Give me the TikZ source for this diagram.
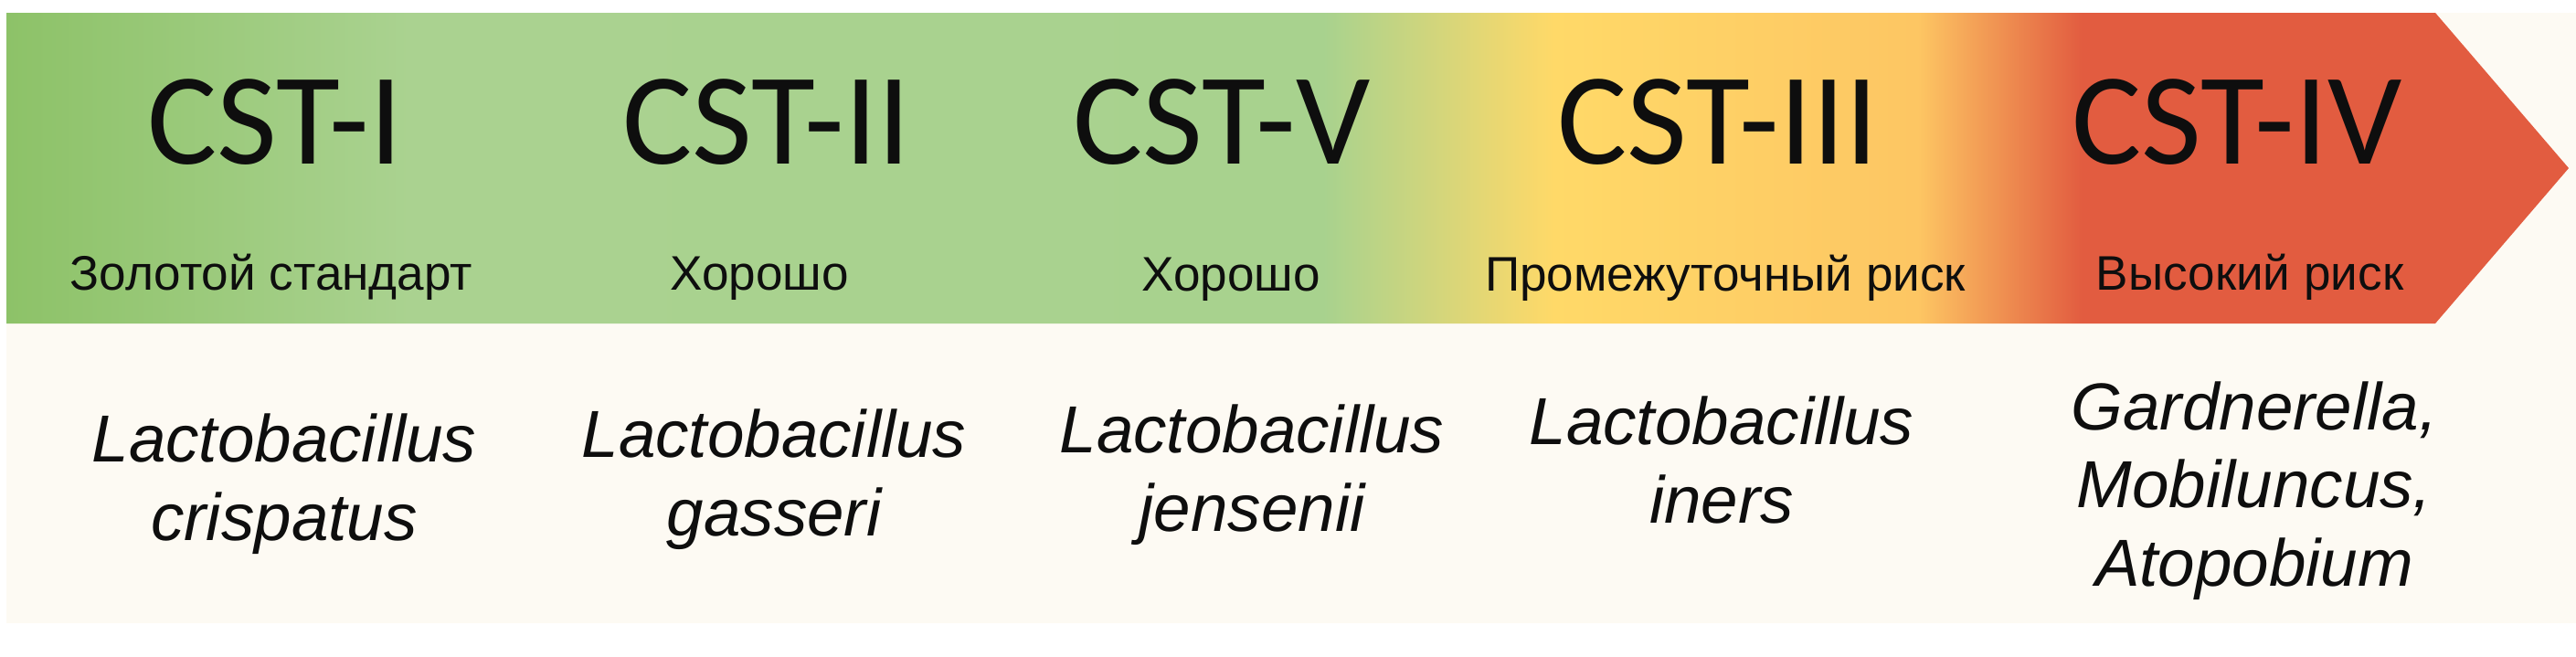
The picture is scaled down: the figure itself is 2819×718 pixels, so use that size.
\documentclass[tikz,border=0pt]{standalone}
\usepackage{fontspec}
\setmainfont{Liberation Sans}
\newfontfamily\cstfont{Carlito}
\definecolor{cream}{RGB}{253,250,243}
\definecolor{ink}{RGB}{14,14,14}
\pgfdeclarehorizontalshading{riskband}{100bp}{%
  rgb(0bp)=(0.553,0.761,0.408);
  rgb(25bp)=(0.553,0.761,0.408);
  rgb(32.9bp)=(0.667,0.824,0.565);
  rgb(50.7bp)=(0.659,0.824,0.557);
  rgb(55.2bp)=(1,0.851,0.408);
  rgb(62.3bp)=(0.992,0.776,0.388);
  rgb(65.5bp)=(0.886,0.361,0.251);
  rgb(75bp)=(0.886,0.361,0.251);
  rgb(100bp)=(0.886,0.361,0.251)}
\tikzset{
  cst/.style={inner sep=0pt,anchor=base,text=ink,font=\cstfont\fontsize{40.7}{44}\selectfont},
  risk/.style={inner sep=0pt,anchor=base,text=ink,font=\fontsize{15.1}{18}\selectfont},
  microbe/.style={inner sep=0pt,anchor=base,text=ink,align=center,font=\itshape\fontsize{20.7}{24.2}\selectfont}
}
\begin{document}
\begin{tikzpicture}[x=0.01cm,y=-0.01cm]
    \useasboundingbox (0,0) rectangle (2819,718);
    \fill[cream] (7,14) rectangle (2819,682);
    \shade[shading=riskband] (7,14)--(2665,14)--(2811,184)--(2665,354)--(7,354)--cycle;
    \node[cst] (cst1) at (301,179) {CST-I};
    \node[cst] (cst2) at (839,179) {CST-II};
    \node[cst] (cst5) at (1337,179) {CST-V};
    \node[cst] (cst3) at (1880,179) {CST-III};
    \node[cst] (cst4) at (2448,179) {CST-IV};
    \node[risk] (risk1) at (297,317) {Золотой стандарт};
    \node[risk] (risk2) at (831,317) {Хорошо};
    \node[risk] (risk5) at (1347,318) {Хорошо};
    \node[risk] (risk3) at (1888,318) {Промежуточный риск};
    \node[risk] (risk4) at (2462,317) {Высокий риск};
    \node[microbe] (bact1) at (311,591) {Lactobacillus\\crispatus};
    \node[microbe] (bact2) at (847,586) {Lactobacillus\\gasseri};
    \node[microbe] (bact5) at (1370,581) {Lactobacillus\\jensenii};
    \node[microbe] (bact3) at (1884,572) {Lactobacillus\\iners};
    \node[microbe] (bact4) at (2467,641) {Gardnerella,\\Mobiluncus,\\Atopobium};
\end{tikzpicture}
\end{document}
